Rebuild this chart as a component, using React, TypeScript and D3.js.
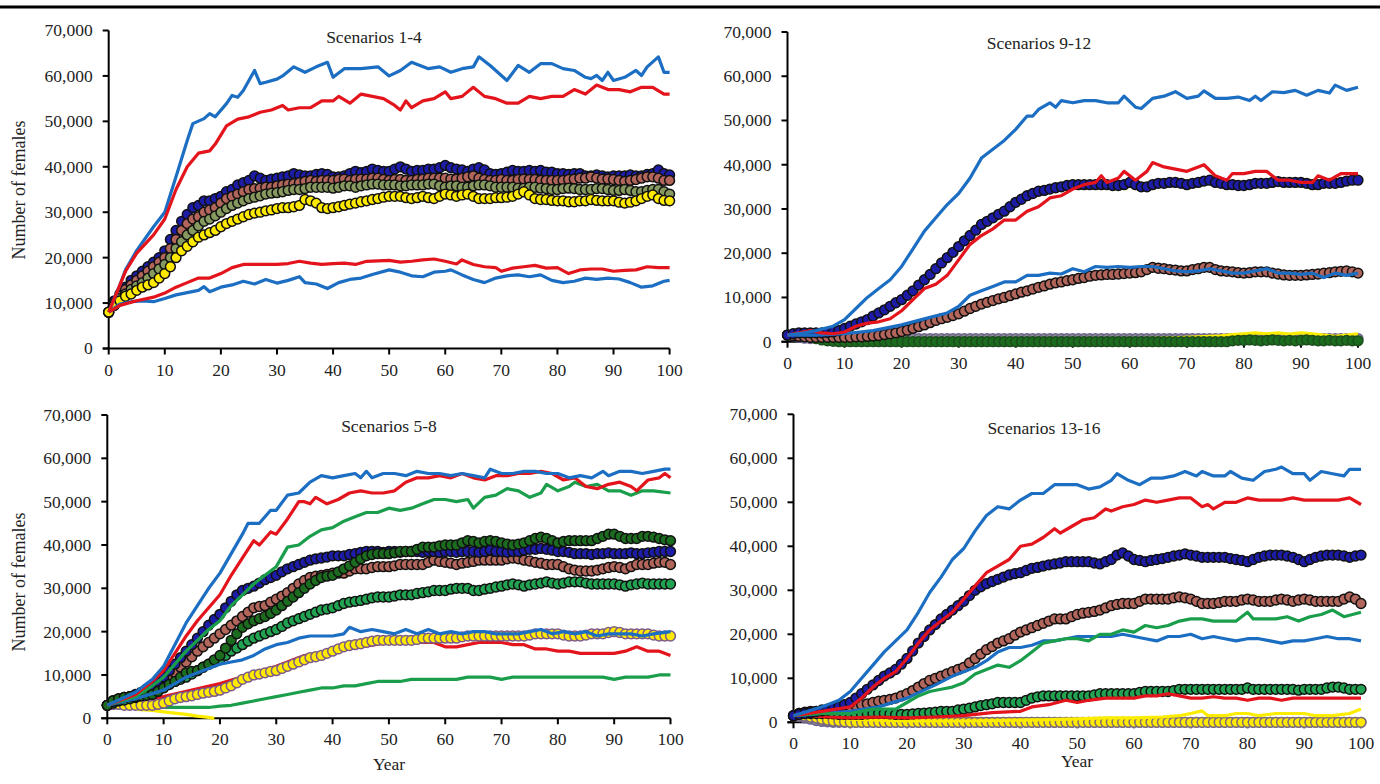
import React from "react";
import * as d3 from "d3";

type Pair = [number, number];

// ---------- axes / labels ----------
const YEAR_TICKS = [0, 10, 20, 30, 40, 50, 60, 70, 80, 90, 100];
const FEMALE_TICKS = [0, 10000, 20000, 30000, 40000, 50000, 60000, 70000];
const TITLES = ["Scenarios 1-4", "Scenarios 9-12", "Scenarios 5-8", "Scenarios 13-16"];
const Y_LABEL = "Number of females";
const X_LABEL = "Year";
const K = 1000; // all values below are in thousands of females

// ---------- Scenarios 1-4 ----------
const A_lineBlueHigh: Pair[] = [[0,8],[1,11],[2,14],[3,17.3],[5,21.6],[8,26.8],[10,30],[12,37.8],[14,45.8],[15,49.5],[17,50.6],[18,51.7],[19,51],[21,53.9],[22,55.7],[23,55.3],[24,56.8],[26,61.2],[27,58.3],[28,58.6],[30,59.3],[31,60],[33,62],[35,60.8],[37,62],[39,63],[40,59.7],[42,61.6],[45,61.6],[48,62],[50,60],[52,61.2],[54,63],[57,61.6],[59,62],[61,60.8],[63,61.6],[65,62],[66,64.2],[68,62.3],[70,60.1],[71,59],[73,62.3],[75,60.8],[77,62.7],[79,62.7],[81,61.6],[83,61.2],[85,59.7],[86,59.4],[87,60.1],[88,59],[89,60.8],[90,59],[92,59.7],[94,61.2],[95,60.1],[96,62],[98,64.2],[99,60.8],[100,60.8]];
const A_lineRedHigh: Pair[] = [[0,8],[2,14],[3,17],[5,21],[8,25],[10,28.5],[12,35],[14,40],[16,43],[18,43.5],[19,45],[21,49],[23,50.5],[25,51],[27,52],[29,52.5],[31,53.5],[32,52.5],[34,53],[36,53],[38,54.5],[40,54.5],[41,55.5],[43,54],[45,56],[47,55.5],[49,55],[51,53.5],[52,52.5],[53,54.5],[54,53],[56,54.5],[58,55],[60,56.5],[61,55],[63,55.5],[65,57.5],[67,55.5],[69,55],[71,54],[73,54],[75,55.5],[77,55],[79,55.5],[81,55.5],[83,57],[85,56],[87,58],[89,57],[91,57],[93,56.5],[95,57.5],[97,57.5],[99,56],[100,56]];
const A_lineRedLow: Pair[] = [[0,8],[2,9.5],[5,10.5],[8,11.3],[10,12.2],[12,13.5],[14,14.5],[16,15.5],[18,15.5],[20,16.5],[22,17.8],[24,18.5],[26,18.5],[28,18.5],[30,18.5],[32,18.7],[34,19.2],[36,18.8],[38,18.5],[40,18.7],[42,18.8],[44,18.5],[46,19.2],[48,19.3],[50,19.4],[52,19],[54,19.2],[56,19.5],[58,19.7],[60,19.2],[62,18.6],[63,19.5],[65,18.5],[67,18],[69,17.8],[70,17],[72,17.7],[74,18],[76,18.3],[78,17.7],[80,17.8],[82,16.5],[84,17.3],[86,17.5],[88,17.5],[90,17],[92,17.2],[94,17.3],[96,18],[98,17.8],[100,17.8]];
const A_lineBlueLow: Pair[] = [[0,8],[2,9.8],[4,10.3],[6,10.5],[8,10.3],[10,11],[12,11.8],[14,12.3],[16,12.8],[17,13.6],[18,12.5],[20,13.5],[22,14],[24,14.8],[26,14.2],[28,15.2],[30,14.4],[32,15],[34,15.8],[35,14.5],[37,14.2],[39,13.2],[41,14.5],[43,15.2],[45,15.5],[47,16.3],[50,17.3],[52,16.8],[54,16],[56,15.8],[58,16.8],[60,17],[61,17.3],[63,16.2],[65,15.2],[67,14.5],[69,15.5],[71,16],[73,16.2],[75,15.8],[77,16.2],[79,15],[81,14.5],[83,14.8],[85,15.5],[87,15.2],[89,15.5],[91,15.3],[93,14.5],[95,13.5],[97,13.8],[99,14.8],[100,15]];
const A_dotsBlue = [8.0,10.5,12.0,13.5,15.0,16.0,17.0,18.0,19.0,20.0,
21.5,24.0,26.0,28.0,29.5,31.0,31.5,32.5,32.5,33.0,
33.5,34.5,35.0,36.0,36.5,37.0,38.0,37.5,37.0,37.3,
37.5,37.8,38.0,38.5,38.2,38.0,38.0,38.3,38.5,38.3,
37.8,37.8,38.0,38.5,39.0,38.7,39.0,39.5,39.2,39.0,
39.0,39.5,40.0,39.5,39.0,39.2,39.2,39.5,39.5,39.8,
40.3,39.8,39.5,39.3,39.0,39.5,39.8,39.3,38.5,38.3,
38.5,38.8,39.2,39.0,39.0,39.2,39.0,39.2,38.8,38.8,
38.5,38.5,38.3,38.5,38.5,38.0,38.0,38.2,38.0,37.8,
38.0,38.0,38.0,38.2,38.0,38.0,38.3,38.5,39.3,38.5,
38.2];
const A_dotsBrown = [8.0,10.0,11.5,13.0,14.0,15.0,16.0,17.0,18.0,19.0,
20.0,22.0,24.0,26.0,27.5,28.5,29.0,30.0,30.5,31.0,
32.0,33.0,33.5,34.0,34.5,35.0,35.2,35.3,35.5,35.5,
35.8,36.0,36.2,36.3,36.5,36.8,37.0,36.8,37.0,37.0,
37.0,37.2,37.3,37.0,37.2,37.3,37.3,37.5,37.5,37.2,
37.0,37.2,37.2,37.0,37.0,37.2,37.3,37.5,37.5,37.5,
37.5,37.3,37.3,37.5,37.8,38.0,37.5,37.2,37.0,37.0,
37.2,37.0,37.0,37.2,37.3,37.2,37.2,37.0,37.0,37.0,
37.0,37.0,37.2,37.3,37.5,37.5,37.8,37.5,37.3,37.3,
37.2,37.0,36.8,37.0,37.2,37.5,37.8,37.8,37.5,37.0,
37.0];
const A_dotsOlive = [8.0,9.5,11.0,12.0,13.0,13.8,14.5,15.5,16.5,17.5,
18.5,20.0,22.0,23.5,25.0,26.0,27.0,28.0,28.5,29.2,
30.0,30.8,31.5,32.0,32.5,33.0,33.3,33.6,34.0,34.2,
34.3,34.5,34.8,35.0,35.0,35.2,35.5,35.5,35.5,35.5,
35.3,35.5,35.8,35.8,35.5,35.8,36.0,36.2,36.2,36.0,
36.0,36.0,35.8,35.8,36.0,36.0,36.0,36.2,36.2,35.8,
35.5,35.8,35.8,35.5,35.5,35.8,36.0,36.0,35.8,35.5,
35.5,35.5,35.5,35.3,35.3,35.5,35.5,35.3,35.2,35.0,
35.0,35.2,35.3,35.2,35.0,35.0,35.0,35.2,35.2,35.0,
34.8,34.8,35.0,34.8,34.5,34.5,34.8,35.0,35.0,34.5,
34.0];
const A_dotsYellow = [8.0,9.5,10.5,11.5,12.0,12.8,13.5,14.0,14.5,15.5,
16.5,18.0,20.0,21.5,22.5,23.5,24.5,25.0,25.5,26.0,
26.8,27.5,28.0,28.5,29.0,29.5,29.8,30.0,30.3,30.5,
30.8,31.0,31.0,31.2,31.5,32.8,32.5,32.0,31.0,30.8,
31.0,31.2,31.5,31.8,32.0,32.3,32.5,32.8,33.0,33.3,
33.5,33.5,33.5,33.2,33.0,33.2,33.5,33.2,33.0,33.5,
34.0,33.8,33.5,33.8,34.0,33.5,33.0,33.0,33.0,33.2,
33.2,33.3,33.5,34.0,34.5,33.8,33.0,32.8,32.8,32.6,
32.5,32.5,32.3,32.3,32.5,32.5,32.8,32.6,32.5,32.5,
32.5,32.2,32.0,32.2,32.5,33.0,33.5,33.8,33.0,32.6,
32.5];

// ---------- Scenarios 9-12 ----------
const B_lineBlueHigh: Pair[] = [[0,1.5],[3,2],[5,2.5],[8,3.5],[10,5],[12,7.5],[14,10],[16,12],[18,14],[20,17],[22,21],[24,25],[26,28],[28,31],[30,33.5],[32,37],[34,41.5],[36,43.5],[38,45.5],[40,48],[42,51],[43,51],[44,52.5],[46,54],[47,53],[48,54.5],[50,54],[52,54.5],[54,54.5],[56,54],[58,54],[59,55.5],[61,53],[62,52.7],[64,55],[66,55.5],[68,56.5],[70,55],[72,55.5],[73,56.7],[75,55],[77,55],[79,55.3],[81,54.5],[82,55.5],[83,54.5],[85,56.5],[87,56.3],[89,56.8],[91,55.7],[93,56.8],[95,56.2],[96,58],[98,56.8],[100,57.5]];
const B_lineRed: Pair[] = [[0,1.5],[2,2],[4,2.5],[6,2],[8,1.8],[10,2.2],[12,3.5],[14,4.2],[16,4.5],[18,5.2],[20,7],[22,9.5],[24,12],[26,13],[28,15],[30,18.5],[32,22],[34,24],[36,25.5],[38,27.5],[40,27.5],[42,29.5],[44,30.5],[46,32.5],[48,33],[50,34.5],[52,35.5],[54,36],[55,37.5],[56,36],[58,37],[59,38.5],[61,36.5],[63,38.5],[64,40.5],[66,39.5],[68,39],[70,38.5],[72,39.5],[73,40],[75,37.5],[77,36.5],[78,38],[80,38],[82,38.5],[84,38.5],[86,36.5],[88,36.5],[90,36],[92,36],[93,37.5],[95,36.5],[97,38],[100,38]];
const B_lineBlueLow: Pair[] = [[0,1.5],[5,1.5],[10,1.8],[15,2.5],[20,3.8],[25,5.5],[28,6.5],[30,8],[32,10.5],[34,11.5],[36,12.5],[38,13.5],[40,13.5],[42,15],[44,15],[46,15.5],[48,15.3],[50,16.5],[52,15.8],[54,17],[56,16.8],[58,17],[60,16.8],[62,17],[64,17],[66,16.5],[68,16],[70,15.8],[72,16],[74,16.5],[76,16],[78,15.5],[80,15.5],[82,16],[84,16.5],[86,15.5],[88,15.5],[90,15.2],[92,15.5],[94,14.5],[96,15.5],[98,15],[100,15.5]];
const B_lineYellow: Pair[] = [[0,1.5],[2,2],[4,1.8],[6,1.3],[8,0.8],[10,0.6],[20,0.6],[30,0.6],[40,0.6],[50,0.6],[60,0.6],[66,0.8],[70,1],[74,1.2],[76,1.3],[78,1.6],[80,1.8],[82,2],[84,1.8],[86,2],[88,1.7],[90,2],[92,1.8],[94,1.5],[96,1.2],[98,1.5],[100,1.8]];
const B_dotsBlue = [1.5,1.8,2.0,2.0,2.0,2.0,2.0,2.1,2.2,2.5,
3.0,3.5,4.0,4.5,5.0,5.8,6.5,7.2,8.0,8.8,
9.5,10.5,11.5,12.8,14.0,15.2,16.5,17.8,19.0,20.2,
21.5,22.8,24.0,25.2,26.5,27.2,28.0,28.8,29.5,30.5,
31.5,32.2,33.0,33.5,34.0,34.2,34.5,34.8,35.0,35.3,
35.5,35.5,35.5,35.5,35.5,35.5,35.5,35.3,35.3,35.5,
36.0,35.5,35.0,35.0,35.5,35.8,35.8,36.0,36.0,35.8,
35.5,35.8,36.0,36.3,36.5,36.0,35.8,35.5,35.5,35.3,
35.3,35.5,35.8,35.8,35.8,36.0,36.2,36.0,36.0,36.0,
36.0,35.8,35.5,35.5,35.8,35.8,35.8,36.0,36.3,36.5,
36.5];
const B_dotsBrown = [1.5,1.3,1.2,1.1,1.0,1.0,1.0,1.0,1.0,1.0,
1.0,1.0,1.1,1.1,1.2,1.3,1.4,1.6,1.8,2.0,
2.3,2.6,3.0,3.4,3.8,4.3,4.8,5.2,5.5,5.9,
6.3,6.9,7.5,8.0,8.5,8.9,9.3,9.7,10.0,10.4,
10.8,11.2,11.5,11.9,12.3,12.6,13.0,13.3,13.5,13.8,
14.0,14.3,14.5,14.8,15.0,15.1,15.2,15.2,15.3,15.4,
15.5,15.6,15.8,16.3,16.8,16.6,16.5,16.3,16.2,16.0,
16.0,16.3,16.5,16.8,16.8,16.3,16.0,15.9,15.8,15.6,
15.5,15.6,15.8,15.8,15.8,15.5,15.3,15.1,15.0,15.0,
15.0,15.1,15.2,15.3,15.5,15.6,15.8,15.9,16.0,15.8,
15.5];
const B_dotsGray = [1.5,1.3,1.0,0.8,0.7,0.7,0.7,0.7,0.7,0.7,
0.7,0.7,0.7,0.7,0.7,0.7,0.7,0.7,0.7,0.7,
0.7,0.7,0.7,0.7,0.7,0.7,0.7,0.7,0.7,0.7,
0.7,0.7,0.7,0.7,0.7,0.7,0.7,0.7,0.7,0.7,
0.7,0.7,0.7,0.7,0.7,0.7,0.7,0.7,0.7,0.7,
0.7,0.7,0.7,0.7,0.7,0.7,0.7,0.7,0.7,0.7,
0.7,0.7,0.7,0.7,0.7,0.7,0.7,0.7,0.7,0.7,
0.7,0.7,0.7,0.7,0.7,0.7,0.7,0.7,0.7,0.7,
0.7,0.7,0.7,0.7,0.7,0.7,0.7,0.7,0.7,0.7,
0.7,0.7,0.7,0.7,0.7,0.7,0.7,0.7,0.7,0.7,
0.7];
const B_dotsGreen = [1.5,1.6,1.5,1.3,1.0,0.7,0.4,0.2,0.1,0,
0,0,0,0,0,0,0,0,0,0,
0,0,0,0,0,0,0,0,0,0,
0,0,0,0,0,0,0,0,0,0,
0,0,0,0,0,0,0,0,0,0,
0,0,0,0,0,0,0,0,0,0,
0,0,0,0,0,0,0,0,0,0,
0,0,0,0,0,0,0,0,0.2,0.3,
0.3,0.4,0.3,0.2,0.3,0.4,0.3,0.2,0.3,0.2,
0.3,0.4,0.3,0.2,0.2,0.3,0.2,0.2,0.3,0.2,
0.2];

// ---------- Scenarios 5-8 ----------
const C_lineBlueHigh: Pair[] = [[0,3],[5,6],[8,9],[10,12],[12,17],[14,22],[16,26],[18,30],[20,33.5],[22,38],[24,42.5],[25,45],[27,45],[29,48],[30,48],[32,51.5],[34,52],[36,54.5],[38,56],[40,55.5],[42,56],[44,56.5],[45,55.5],[46,57],[47,55.5],[49,56.5],[51,56.5],[53,56],[55,57],[57,56.5],[59,56.5],[61,56],[63,56.5],[65,56],[67,55.5],[68,57.5],[70,56.5],[72,56.5],[74,57],[76,57],[78,56.5],[80,56.5],[82,55.5],[84,56],[86,55.5],[88,57],[89,56],[91,57],[93,57],[95,56.5],[97,57],[99,57.5],[100,57.5]];
const C_lineRedHigh: Pair[] = [[0,3],[5,5.5],[8,8.5],[10,11],[12,15],[14,19],[16,22.5],[18,25.5],[20,28.5],[22,33],[24,37],[26,41],[27,40],[29,43],[30,42.5],[32,46],[34,50],[35,50],[36,49.5],[37,51],[39,49.5],[41,50.5],[43,52],[45,52.5],[47,52],[49,52],[51,52.5],[53,54.5],[55,55.5],[57,55.5],[59,56],[61,55.5],[63,56.5],[65,55.5],[67,55],[69,56],[71,56],[73,56.5],[75,56.5],[77,57],[79,56.5],[81,55],[83,55.5],[85,53.5],[87,53],[89,54],[91,54.5],[93,53.5],[94,52.5],[96,55],[98,55.5],[99,56.5],[100,55.5]];
const C_lineGreenHigh: Pair[] = [[0,3],[5,5],[8,7.5],[10,9.5],[12,12.5],[14,15.5],[16,18],[18,20.5],[20,22.5],[22,26],[24,28.5],[26,31],[28,33],[30,35],[32,39.5],[34,40],[36,42],[38,43.5],[40,44],[42,45.5],[44,46.5],[46,47.5],[48,47.5],[50,48.5],[52,48],[54,48.5],[56,49.5],[58,50.5],[60,50.5],[62,50],[64,50.5],[65,48.5],[67,51],[69,51.5],[71,53],[73,52.5],[75,51],[77,52],[78,54],[80,52.5],[82,53.5],[83,54.5],[85,53.5],[87,54],[89,52.5],[91,52.5],[93,51.5],[95,52.5],[97,52.5],[100,52]];
const C_lineBlueLow: Pair[] = [[0,3],[5,4.5],[10,6.5],[12,8],[14,9.5],[16,10.5],[18,11.5],[20,12.5],[22,13],[24,13.5],[26,14.5],[28,16],[30,17],[32,17.5],[34,18.5],[36,19],[38,19],[40,19],[42,19.5],[43,21],[45,20],[47,20.5],[49,20],[51,19.5],[53,20.5],[55,19.5],[57,20.5],[59,19.5],[61,20],[63,19.5],[65,20],[67,20],[69,19.5],[71,19.5],[73,19.5],[75,20],[77,20.5],[79,19.5],[81,20],[83,19.5],[85,20],[87,19],[89,19.5],[91,19.5],[93,19.5],[95,19],[97,19.5],[100,20]];
const C_lineRedLow: Pair[] = [[0,3],[5,4],[10,5],[15,6.5],[20,8],[25,10],[30,12],[35,14.5],[40,15.5],[45,16.5],[50,17.5],[55,17.5],[58,17.5],[60,16.5],[62,16.5],[64,17],[66,17.5],[68,17.5],[70,17.5],[72,17],[74,17],[76,16],[78,16],[80,15.5],[82,15.5],[84,15],[86,15],[88,15],[90,15],[92,15.5],[94,16.5],[96,15.5],[98,15.5],[100,14.5]];
const C_lineGreenLow: Pair[] = [[0,3],[3,2.8],[6,2.5],[10,2.5],[14,2.5],[18,2.5],[20,2.8],[22,3],[24,3.5],[26,4],[28,4.5],[30,5],[32,5.5],[34,6],[36,6.5],[38,7],[40,7],[42,7.5],[44,7.5],[46,8],[48,8.5],[50,8.5],[52,8.5],[54,9],[56,9],[58,9],[60,9],[62,9],[64,9.5],[66,9.5],[68,9.5],[70,9],[72,9.5],[74,9.5],[76,9.5],[78,9.5],[80,9.5],[82,9.5],[84,9.5],[86,9.5],[88,9.5],[90,9],[92,9.5],[94,9.5],[96,9.5],[98,10],[100,10]];
const C_lineYellow: Pair[] = [[0,3],[2,3],[4,2.5],[6,2],[8,1.8],[10,1.5],[12,1.2],[14,0.9],[16,0.5],[18,0.2],[19,0]];
const C_dotsBlue = [3.0,4.0,4.5,4.8,5.0,5.5,6.0,6.8,7.5,8.5,
9.5,11.0,12.5,14.0,15.5,17.0,18.5,20.0,21.5,22.8,
24.0,25.5,27.0,28.5,29.5,30.0,30.5,31.2,32.0,32.5,
33.0,33.8,34.5,35.0,35.5,36.0,36.5,36.8,37.0,37.2,
37.5,37.5,37.5,37.8,38.0,38.3,38.5,38.5,38.5,38.3,
38.5,38.5,38.3,38.5,38.5,38.5,38.3,38.5,38.5,38.3,
38.5,38.5,38.3,38.5,38.5,38.5,38.3,38.5,38.8,38.5,
38.5,38.3,38.5,38.5,38.8,39.0,39.0,39.2,39.0,38.8,
38.5,38.5,38.3,38.0,38.0,38.0,37.8,38.0,38.0,38.2,
38.0,38.0,38.0,38.2,38.0,38.0,38.2,38.3,38.5,38.5,
38.5];
const C_dotsBrown = [3.0,4.0,4.5,4.8,5.0,5.2,5.5,6.0,6.5,7.2,
8.0,9.2,10.5,11.8,13.0,14.2,15.5,16.5,17.5,18.5,
19.5,20.5,21.5,22.5,23.5,24.5,25.5,25.8,26.0,26.8,
27.5,28.2,29.0,30.0,31.0,31.8,32.5,32.8,33.0,33.2,
33.5,33.5,33.5,34.0,34.5,34.5,34.5,34.8,35.0,35.0,
35.0,35.2,35.5,35.5,35.5,35.5,35.5,36.0,36.5,36.2,
36.0,35.8,35.5,35.8,36.0,36.2,36.5,36.5,36.5,36.5,
36.5,36.8,37.0,36.8,36.5,36.3,36.0,35.8,35.5,35.5,
35.5,35.0,34.5,34.2,34.0,34.0,34.0,34.2,34.5,34.8,
35.0,34.8,34.5,35.0,35.5,35.5,35.5,35.8,36.0,36.0,
35.5];
const C_dotsDarkGreen = [3.0,4.0,4.5,4.8,5.0,5.0,5.2,5.3,5.5,6.2,
7.0,7.8,8.5,9.5,10.5,10.8,11.0,11.8,12.5,13.5,
14.5,16.2,18.0,19.5,21.0,21.8,22.5,23.0,23.5,24.2,
25.0,26.0,27.0,28.0,29.0,30.0,31.0,31.8,32.5,32.8,
33.0,33.8,34.5,35.2,36.0,36.8,37.5,37.8,38.0,38.0,
38.0,38.2,38.5,38.5,38.5,39.0,39.5,39.5,39.5,39.8,
40.0,40.0,40.0,40.5,41.0,40.8,40.5,40.8,41.0,40.8,
40.5,40.2,40.0,40.2,40.5,41.0,41.5,41.8,41.5,41.0,
40.5,40.8,41.0,41.0,41.0,41.0,41.0,41.5,42.0,42.5,
42.5,42.0,41.5,41.5,41.5,42.0,42.0,41.8,41.5,41.2,
41.0];
const C_dotsGreen = [3.0,3.5,4.0,4.2,4.5,4.8,5.2,5.6,6.0,6.8,
7.5,8.0,8.5,9.0,9.5,10.2,11.0,11.8,12.5,13.0,
13.5,14.5,15.5,16.2,17.0,17.8,18.5,19.0,19.5,20.0,
20.5,21.2,22.0,22.5,23.0,23.5,24.0,24.5,25.0,25.2,
25.5,26.0,26.5,26.8,27.0,27.2,27.5,27.8,28.0,28.0,
28.0,28.2,28.5,28.5,28.5,28.8,29.0,29.2,29.5,29.5,
29.5,29.8,30.0,30.0,30.0,29.5,29.5,29.8,30.0,30.3,
30.5,30.8,31.0,30.8,30.5,30.8,31.0,31.2,31.5,31.2,
31.0,31.2,31.5,31.5,31.5,31.2,31.0,31.0,31.0,31.0,
31.0,30.8,30.5,30.8,31.0,31.2,31.0,31.0,31.0,31.0,
31.0];
const C_dotsYellow = [3.0,3.2,3.2,3.0,3.0,3.0,3.0,3.0,3.0,3.2,
3.5,4.0,4.5,4.8,5.0,5.2,5.5,5.8,6.0,6.2,
6.5,7.0,7.5,8.2,9.0,9.5,10.0,10.2,10.5,10.8,
11.0,11.5,12.0,12.5,13.0,13.5,14.0,14.2,14.5,15.0,
15.5,16.0,16.5,16.8,17.0,17.2,17.5,17.8,18.0,18.0,
18.0,18.0,18.0,18.0,18.0,18.2,18.5,18.5,18.5,18.5,
18.5,18.5,18.5,18.8,19.0,19.0,19.0,19.0,19.0,19.0,
19.0,19.0,19.0,19.0,19.0,19.2,19.5,19.5,19.5,19.5,
19.5,19.2,19.0,19.0,19.0,19.2,19.5,19.5,19.5,19.8,
20.0,19.8,19.5,19.5,19.5,19.5,19.5,19.2,19.0,19.0,
19.0];

// ---------- Scenarios 13-16 ----------
const D_lineBlueHigh: Pair[] = [[0,1.5],[5,3.5],[8,5],[10,7],[12,10],[14,13],[16,16],[18,18.5],[20,21],[22,25],[24,29.5],[26,33],[28,37],[30,39.5],[32,43.5],[34,47],[36,49],[38,48.5],[40,50.5],[42,52],[44,52],[46,54],[48,54],[50,54],[52,53],[54,53.5],[56,55],[57,56.5],[59,55],[61,54],[63,55.5],[65,55.5],[67,56],[69,57],[71,56],[72,57],[74,56],[76,56],[77,57],[79,55.5],[81,55],[83,57],[85,57.5],[86,58],[88,56.5],[90,56.5],[91,55],[93,57],[95,56.5],[97,56],[98,57.5],[100,57.5]];
const D_lineRedHigh: Pair[] = [[0,1.5],[5,2.5],[10,3.5],[12,5.5],[14,8],[16,10],[18,11.5],[20,14.5],[22,18],[24,21],[26,23],[28,25],[30,28],[32,31],[34,34],[36,35.5],[38,37],[40,40],[42,40.5],[44,42],[46,44],[47,43],[49,44.5],[51,46],[53,46.5],[55,48.5],[56,48],[58,49],[60,49.5],[62,50.5],[64,50],[66,50.5],[68,51],[70,51],[72,49],[73,49.5],[74,48.5],[76,50],[78,50],[80,51],[82,50.5],[84,50.5],[86,50.5],[88,51],[90,50.5],[92,50.5],[94,50.5],[96,50.5],[98,51],[100,49.5]];
const D_lineGreen: Pair[] = [[0,1.5],[5,2],[10,2],[14,3],[18,3],[20,4.5],[22,6],[24,7],[26,7.5],[28,8],[30,9],[32,11],[34,12],[36,13],[38,12.5],[40,14],[42,16],[44,18],[46,18.5],[48,19],[50,19],[52,18.5],[54,20],[56,20],[58,21],[60,20.5],[62,22],[64,21.5],[66,22],[68,23],[70,23.5],[72,23.5],[74,23],[76,23],[78,23],[80,25],[81,23.5],[83,23.5],[85,23.5],[87,24],[89,23],[91,24],[93,24.5],[95,25.5],[97,24],[100,25]];
const D_lineBlueLow: Pair[] = [[0,1.5],[5,2],[10,2.5],[15,3.5],[20,5.5],[25,8.5],[28,10.5],[30,11.5],[32,12.5],[34,14],[36,16],[38,17],[40,17],[42,17.5],[44,18.5],[46,18.5],[48,19],[50,19.5],[52,19.5],[54,19.5],[56,19.5],[58,20],[60,19.5],[62,19],[64,18.5],[66,19.5],[68,19.5],[70,20],[72,19],[74,19.5],[76,19],[78,18.5],[80,19],[82,19],[84,18.5],[86,18],[88,18.5],[90,18.5],[92,19],[94,19.5],[96,19],[98,19],[100,18.5]];
const D_lineRedLow: Pair[] = [[0,1.5],[3,1.5],[6,1.2],[10,1],[15,1.2],[20,1],[25,1.2],[30,1.5],[35,2.2],[40,2.5],[42,3.5],[45,4],[48,5],[50,4.5],[52,5],[55,5.5],[58,5.5],[60,5.5],[62,6],[64,6],[66,6.5],[68,6],[70,5.5],[72,5.5],[74,5.8],[76,5.5],[78,5.5],[80,5],[82,5.5],[84,5.5],[86,5],[88,5.5],[90,5.5],[92,5.5],[94,5.5],[96,5.5],[98,5.5],[100,5.5]];
const D_lineYellow: Pair[] = [[0,1.5],[2,2],[4,1.7],[6,1.2],[8,0.9],[10,0.7],[15,0.5],[20,0.3],[30,0.3],[40,0.5],[45,0.6],[50,0.8],[55,1],[60,1],[65,1.2],[68,1.5],[70,2],[72,2.6],[73,1.5],[76,1.5],[78,2],[80,2],[82,1.5],[85,2],[88,2],[90,2],[92,1.5],[95,1.5],[98,2],[100,3]];
const D_dotsBlue = [1.5,1.8,2.0,2.2,2.5,2.8,3.0,3.2,3.5,4.0,
4.5,5.5,6.5,7.5,8.5,9.5,10.5,11.2,12.0,13.2,
14.5,16.2,18.0,19.5,21.0,22.2,23.5,24.5,25.5,26.5,
27.5,28.8,30.0,30.8,31.5,32.0,32.5,33.0,33.5,33.8,
34.0,34.5,35.0,35.2,35.5,35.8,36.0,36.2,36.5,36.5,
36.5,36.5,36.5,36.2,36.0,36.5,37.0,38.0,38.5,37.8,
37.0,36.8,36.5,36.8,37.0,37.2,37.5,37.8,38.0,38.3,
38.0,37.8,37.5,37.5,37.5,37.5,37.5,37.2,37.0,36.8,
36.5,37.0,37.5,37.8,38.0,38.0,38.0,37.8,37.5,37.0,
36.5,37.0,37.5,37.8,38.0,38.0,38.0,37.8,37.5,37.8,
38.0];
const D_dotsBrown = [1.5,2.0,2.3,2.5,2.5,2.6,2.8,2.9,3.0,3.2,
3.5,3.8,4.0,4.2,4.5,4.8,5.0,5.2,5.5,6.0,
6.5,7.2,8.0,8.8,9.5,10.0,10.5,11.0,11.5,12.0,
12.5,13.5,14.5,15.5,16.5,17.2,18.0,18.5,19.0,19.8,
20.5,21.0,21.5,22.0,22.5,23.0,23.5,23.5,23.5,24.0,
24.5,24.8,25.0,25.2,25.5,26.0,26.5,26.8,27.0,27.0,
27.0,27.5,28.0,28.0,28.0,28.0,28.0,28.3,28.5,28.3,
28.0,27.5,27.0,27.0,27.0,27.2,27.5,27.5,27.5,27.8,
28.0,27.8,27.5,27.5,27.5,27.8,28.0,27.8,27.5,27.8,
28.0,27.8,27.5,27.5,27.5,27.5,27.5,28.0,28.5,28.0,
27.0];
const D_dotsGreen = [1.5,2.0,2.0,2.0,2.0,2.0,2.0,1.9,1.8,1.8,
1.8,1.8,1.8,1.9,2.0,2.0,2.0,1.9,1.8,1.8,
1.8,1.9,2.0,2.1,2.2,2.3,2.5,2.5,2.5,2.8,
3.0,3.2,3.5,3.8,4.0,4.2,4.5,4.5,4.5,4.5,
4.5,5.0,5.5,5.8,6.0,6.0,6.0,6.0,6.0,6.0,
6.0,6.0,6.0,6.2,6.5,6.5,6.5,6.5,6.5,6.5,
6.5,6.8,7.0,7.0,7.0,7.0,7.0,7.2,7.5,7.5,
7.5,7.5,7.5,7.5,7.5,7.5,7.5,7.5,7.5,7.5,
7.8,7.5,7.5,7.5,7.5,7.5,7.5,7.5,7.5,7.3,
7.5,7.5,7.5,7.5,7.8,8.0,8.0,7.8,7.5,7.5,
7.5];
const D_dotsYellow = [1.5,1.5,1.4,1.2,1.0,0.7,0.5,0.3,0.2,0.1,
0,0,0,0,0,0,0,0,0,0,
0,0,0,0,0,0,0,0,0,0,
0,0,0,0,0,0,0,0,0,0,
0,0,0,0,0,0,0,0,0,0,
0,0,0,0,0,0,0,0,0,0,
0,0,0,0,0,0,0,0,0,0,
0,0,0,0,0,0,0,0,0,0,
0,0,0,0,0,0,0,0,0,0,
0,0,0,0,0,0,0,0,0,0,
0];
const D_dotsGray = [1.5,1.3,1.0,0.7,0.4,0.2,0.1,0,0,0,
0,0,0,0,0,0,0,0,0,0,
0,0,0,0,0,0,0,0,0,0,
0,0,0,0,0,0,0,0,0,0,
0,0,0,0,0,0,0,0,0,0,
0,0,0,0,0,0,0,0,0,0,
0,0,0,0,0,0,0,0,0,0,
0,0,0,0,0,0,0,0,0,0,
0,0,0,0,0,0,0,0,0,0,
0,0,0,0,0,0,0,0,0,0,
0];

// ---------- styles ----------
const COL = {
  lineBlue: "#1b6ec2",
  lineRed: "#e3141c",
  lineGreen: "#1a9e4c",
  lineYellow: "#fbec00",
  dotBlue: "#1c1ca6",
  dotBrown: "#b2655b",
  dotOlive: "#86995f",
  dotYellow: "#ffea00",
  dotDarkGreen: "#1b6c1e",
  dotGreen: "#22a352",
  dotGray: "#8c8c8c",
};
const FONT = "'Liberation Serif', 'Times New Roman', serif";

type Series =
  | { kind: "line"; data: Pair[]; color: string }
  | { kind: "dots"; data: number[]; fill: string; stroke: string };

interface Panel {
  title: string;
  left: number; right: number; top: number; bottom: number;
  titleX: number; titleY: number;
  yLabel?: { x: number; y: number };
  xLabel?: { x: number; y: number };
  series: Series[];
}

const L = (data: Pair[], color: string): Series => ({ kind: "line", data, color });
const Dt = (data: number[], fill: string, stroke = "#111"): Series => ({ kind: "dots", data, fill, stroke });

const PANELS: Panel[] = [
  {
    title: TITLES[0], left: 108.7, right: 669.6, top: 30.5, bottom: 348.5,
    titleX: 374, titleY: 43, yLabel: { x: 25, y: 190 },
    series: [
      Dt(A_dotsBlue, COL.dotBlue), Dt(A_dotsBrown, COL.dotBrown), Dt(A_dotsOlive, COL.dotOlive), Dt(A_dotsYellow, COL.dotYellow),
      L(A_lineBlueLow, COL.lineBlue), L(A_lineRedLow, COL.lineRed), L(A_lineBlueHigh, COL.lineBlue), L(A_lineRedHigh, COL.lineRed),
    ],
  },
  {
    title: TITLES[1], left: 787.5, right: 1358, top: 32, bottom: 341.7,
    titleX: 1039, titleY: 49,
    series: [
      Dt(B_dotsGray, COL.dotGray, "#6f6490"), L(B_lineYellow, COL.lineYellow), Dt(B_dotsGreen, COL.dotDarkGreen, "#1d4d1d"),
      Dt(B_dotsBrown, COL.dotBrown), Dt(B_dotsBlue, COL.dotBlue),
      L(B_lineBlueLow, COL.lineBlue), L(B_lineRed, COL.lineRed), L(B_lineBlueHigh, COL.lineBlue),
    ],
  },
  {
    title: TITLES[2], left: 107.3, right: 670.5, top: 415, bottom: 718.3,
    titleX: 389, titleY: 432, yLabel: { x: 25, y: 582 }, xLabel: { x: 389, y: 770 },
    series: [
      L(C_lineYellow, COL.lineYellow), L(C_lineRedLow, COL.lineRed), L(C_lineGreenLow, COL.lineGreen),
      Dt(C_dotsYellow, COL.dotYellow, "#7a5a8a"), Dt(C_dotsGreen, COL.dotGreen), Dt(C_dotsBrown, COL.dotBrown),
      Dt(C_dotsBlue, COL.dotBlue), Dt(C_dotsDarkGreen, COL.dotDarkGreen),
      L(C_lineBlueLow, COL.lineBlue), L(C_lineGreenHigh, COL.lineGreen), L(C_lineRedHigh, COL.lineRed), L(C_lineBlueHigh, COL.lineBlue),
    ],
  },
  {
    title: TITLES[3], left: 793.5, right: 1361, top: 414.3, bottom: 722.3,
    titleX: 1044, titleY: 434, xLabel: { x: 1077, y: 767 },
    series: [
      Dt(D_dotsGray, COL.dotGray, "#6f6490"), Dt(D_dotsYellow, COL.dotYellow, "#7a6a7a"), L(D_lineYellow, COL.lineYellow),
      Dt(D_dotsGreen, COL.dotGreen), L(D_lineRedLow, COL.lineRed),
      Dt(D_dotsBrown, COL.dotBrown), Dt(D_dotsBlue, COL.dotBlue),
      L(D_lineBlueLow, COL.lineBlue), L(D_lineGreen, COL.lineGreen), L(D_lineRedHigh, COL.lineRed), L(D_lineBlueHigh, COL.lineBlue),
    ],
  },
];

const fmt = d3.format(",");

function PanelView({ p }: { p: Panel }) {
  const x = d3.scaleLinear().domain([0, 100]).range([p.left, p.right]);
  const y = d3.scaleLinear().domain([0, 70000]).range([p.bottom, p.top]);
  const line = d3.line<Pair>().x((d) => x(d[0])).y((d) => y(d[1] * K));
  return (
    <g>
      {/* axes (drawn beneath the data, as in the original) */}
      <line x1={p.left} x2={p.left} y1={p.top} y2={p.bottom} stroke="#000" strokeWidth={2} />
      <line x1={p.left - 6} x2={p.right} y1={p.bottom} y2={p.bottom} stroke="#000" strokeWidth={2} />
      {FEMALE_TICKS.map((t) => (
        <g key={"y" + t}>
          <line x1={p.left - 6} x2={p.left} y1={y(t)} y2={y(t)} stroke="#000" strokeWidth={2} />
          <text x={p.left - 16} y={y(t)} dy="0.34em" textAnchor="end" fontFamily={FONT} fontSize={17.5} fill="#222">
            {fmt(t)}
          </text>
        </g>
      ))}
      {YEAR_TICKS.map((t) => (
        <g key={"x" + t}>
          <line x1={x(t)} x2={x(t)} y1={p.bottom} y2={p.bottom + 6} stroke="#000" strokeWidth={2} />
          <text x={x(t)} y={p.bottom + 27} textAnchor="middle" fontFamily={FONT} fontSize={17.5} fill="#222">
            {t}
          </text>
        </g>
      ))}
      {p.series.map((s, i) =>
        s.kind === "line" ? (
          <path key={i} d={line(s.data) || ""} fill="none" stroke={s.color} strokeWidth={3.2} strokeLinejoin="round" />
        ) : (
          <g key={i}>
            {s.data.map((v, yr) => (
              <circle key={yr} cx={x(yr)} cy={y(v * K)} r={4.9} fill={s.fill} stroke={s.stroke} strokeWidth={1.5} />
            ))}
          </g>
        )
      )}
      <text x={p.titleX} y={p.titleY} textAnchor="middle" fontFamily={FONT} fontSize={17.5} fill="#222">
        {p.title}
      </text>
      {p.yLabel && (
        <text transform={`translate(${p.yLabel.x},${p.yLabel.y}) rotate(-90)`} textAnchor="middle" fontFamily={FONT} fontSize={18} fill="#222">
          {Y_LABEL}
        </text>
      )}
      {p.xLabel && (
        <text x={p.xLabel.x} y={p.xLabel.y} textAnchor="middle" fontFamily={FONT} fontSize={17.5} fill="#222">
          {X_LABEL}
        </text>
      )}
    </g>
  );
}

export default function App() {
  return (
    <svg width={1380} height={784} style={{ position: "absolute", left: 0, top: 0, background: "#fff" }}>
      <rect x={0} y={0} width={1380} height={784} fill="#fff" />
      <rect x={0} y={5.5} width={1380} height={3} fill="#000" />
      {PANELS.map((p, i) => (
        <PanelView key={i} p={p} />
      ))}
    </svg>
  );
}
